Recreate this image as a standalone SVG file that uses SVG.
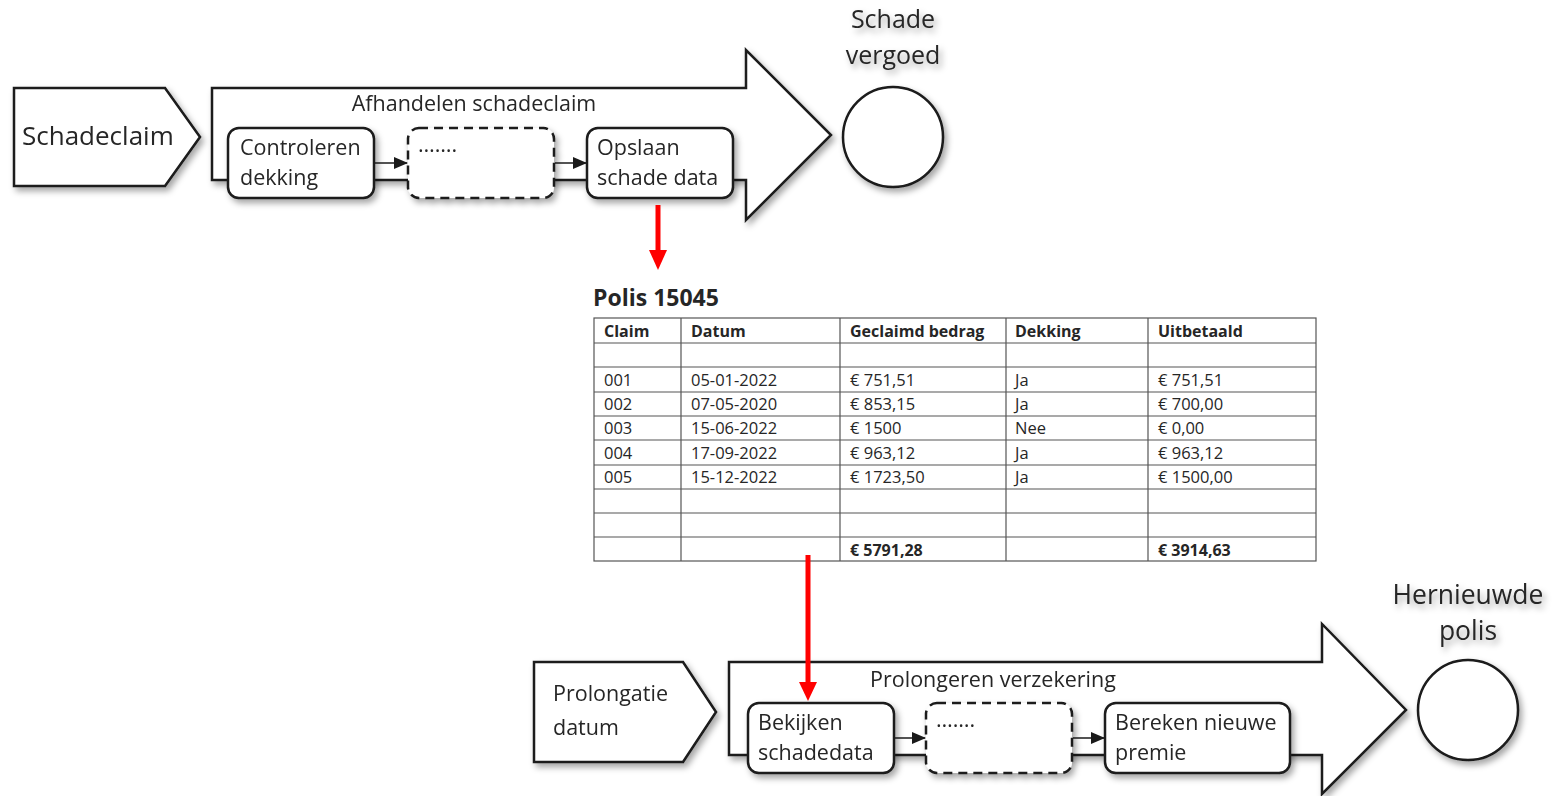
<svg xmlns="http://www.w3.org/2000/svg" width="1554" height="796" viewBox="0 0 1554 796">
<style>
.shape{fill:#fff;stroke:#1a1a1a;stroke-width:2.5;stroke-linejoin:miter}
.box{fill:#fff;stroke:#1a1a1a;stroke-width:2.5}
.dash{fill:#fff;stroke:#1a1a1a;stroke-width:2.5;stroke-dasharray:9 6}
.t{font-family:"Open Sans","Noto Sans",sans-serif;fill:#262626}
.big{font-size:25px}
.mid{font-size:21.5px}
.tab{font-family:"Open Sans","Noto Sans",sans-serif;fill:#262626;font-size:16.5px}
.tb{font-weight:bold}
.hd{font-size:16px}
.grid{stroke:#555;stroke-width:1.2;fill:none}
.conn{stroke:#1a1a1a;stroke-width:1.5;fill:none}
.red{stroke:#ff0000;stroke-width:5;fill:none}
</style>
<defs>
<filter id="sh" x="-10%" y="-10%" width="130%" height="140%">
<feDropShadow dx="3" dy="4" stdDeviation="3" flood-color="#000" flood-opacity="0.35"/>
</filter>
<marker id="ah" markerUnits="userSpaceOnUse" markerWidth="14" markerHeight="12" refX="13" refY="6" orient="auto">
<path d="M0,0 L14,6 L0,12 Z" fill="#1a1a1a"/>
</marker>
</defs>

<g id="schadeclaim" filter="url(#sh)">
<polygon class="shape" points="14,88 165,88 200,137 165,186 14,186"/>
<text class="t" font-size="26" x="22" y="145">Schadeclaim</text>
</g>

<g id="afhandelen" filter="url(#sh)">
<path class="shape" d="M212,180 L212,88 L746,88 L746,50 L831,135 L746,220 L746,180 Z"/>
<text class="t mid" x="474" y="111" text-anchor="middle">Afhandelen schadeclaim</text>
</g>

<g id="controleren" filter="url(#sh)">
<rect class="box" x="228" y="128" width="146" height="70" rx="11"/>
<text class="t mid" x="240" y="155">Controleren</text>
<text class="t mid" x="240" y="185">dekking</text>
</g>

<g id="stap1" filter="url(#sh)">
<rect class="dash" x="408" y="128" width="146" height="70" rx="11"/>
<text class="t mid" x="418" y="152">…….</text>
</g>

<g id="opslaan" filter="url(#sh)">
<rect class="box" x="587" y="128" width="146" height="70" rx="11"/>
<text class="t mid" x="597" y="155">Opslaan</text>
<text class="t mid" x="597" y="185">schade data</text>
</g>

<g id="schade-vergoed" filter="url(#sh)">
<circle class="box" cx="893" cy="137" r="50"/>
<text class="t big" x="893" y="28" text-anchor="middle">Schade</text>
<text class="t big" x="893" y="64" text-anchor="middle">vergoed</text>
</g>

<g id="polis-tabel">
<text class="t tb" x="593" y="306" font-size="23">Polis 15045</text>
<rect class="grid" x="594" y="318" width="722" height="243"/>
<path class="grid" d="M594,343 H1316 M594,367 H1316 M594,392 H1316 M594,416 H1316 M594,440 H1316 M594,465 H1316 M594,489 H1316 M594,513 H1316 M594,537 H1316 M681,318 V561 M840,318 V561 M1006,318 V561 M1148,318 V561"/>
<g class="tab tb hd">
<text x="604" y="337">Claim</text>
<text x="691" y="337">Datum</text>
<text x="850" y="337">Geclaimd bedrag</text>
<text x="1015" y="337">Dekking</text>
<text x="1158" y="337">Uitbetaald</text>
</g>
<g class="tab">
<text x="604" y="386">001</text><text x="691" y="386">05-01-2022</text><text x="850" y="386">€ 751,51</text><text x="1015" y="386">Ja</text><text x="1158" y="386">€ 751,51</text>
<text x="604" y="410">002</text><text x="691" y="410">07-05-2020</text><text x="850" y="410">€ 853,15</text><text x="1015" y="410">Ja</text><text x="1158" y="410">€ 700,00</text>
<text x="604" y="434">003</text><text x="691" y="434">15-06-2022</text><text x="850" y="434">€ 1500</text><text x="1015" y="434">Nee</text><text x="1158" y="434">€ 0,00</text>
<text x="604" y="459">004</text><text x="691" y="459">17-09-2022</text><text x="850" y="459">€ 963,12</text><text x="1015" y="459">Ja</text><text x="1158" y="459">€ 963,12</text>
<text x="604" y="483">005</text><text x="691" y="483">15-12-2022</text><text x="850" y="483">€ 1723,50</text><text x="1015" y="483">Ja</text><text x="1158" y="483">€ 1500,00</text>
</g>
<g class="tab tb hd">
<text x="850" y="556">€ 5791,28</text>
<text x="1158" y="556">€ 3914,63</text>
</g>
</g>

<g id="prolongatie" filter="url(#sh)">
<polygon class="shape" points="534,662 683,662 716,712 683,762 534,762"/>
<text class="t mid" x="553" y="701">Prolongatie</text>
<text class="t mid" x="553" y="735">datum</text>
</g>

<g id="prolongeren" filter="url(#sh)">
<path class="shape" d="M729,755 L729,662 L1322,662 L1322,624 L1406,710 L1322,794 L1322,755 Z"/>
<text class="t mid" x="993" y="687" text-anchor="middle">Prolongeren verzekering</text>
</g>

<g id="bekijken" filter="url(#sh)">
<rect class="box" x="748" y="703" width="146" height="70" rx="11"/>
<text class="t mid" x="758" y="730">Bekijken</text>
<text class="t mid" x="758" y="760">schadedata</text>
</g>

<g id="stap2" filter="url(#sh)">
<rect class="dash" x="926" y="703" width="146" height="70" rx="11"/>
<text class="t mid" x="936" y="727">…….</text>
</g>

<g id="bereken" filter="url(#sh)">
<rect class="box" x="1105" y="703" width="185" height="70" rx="11"/>
<text class="t mid" x="1115" y="730">Bereken nieuwe</text>
<text class="t mid" x="1115" y="760">premie</text>
</g>

<g id="hernieuwde-polis" filter="url(#sh)">
<circle class="box" cx="1468" cy="710" r="50"/>
<text class="t" font-size="26.5" x="1468" y="604" text-anchor="middle">Hernieuwde</text>
<text class="t" font-size="26.5" x="1468" y="640" text-anchor="middle">polis</text>
</g>

<g id="connectors">
<line class="conn" x1="375" y1="163" x2="407" y2="163" marker-end="url(#ah)"/>
<line class="conn" x1="555" y1="163" x2="586" y2="163" marker-end="url(#ah)"/>
<line class="conn" x1="895" y1="738" x2="925" y2="738" marker-end="url(#ah)"/>
<line class="conn" x1="1073" y1="738" x2="1104" y2="738" marker-end="url(#ah)"/>
<line class="red" x1="658" y1="205" x2="658" y2="252"/>
<polygon points="649,250 667,250 658,270" fill="#ff0000"/>
<line class="red" x1="808" y1="555" x2="808" y2="684"/>
<polygon points="799,682 817,682 808,701" fill="#ff0000"/>
</g>
</svg>
